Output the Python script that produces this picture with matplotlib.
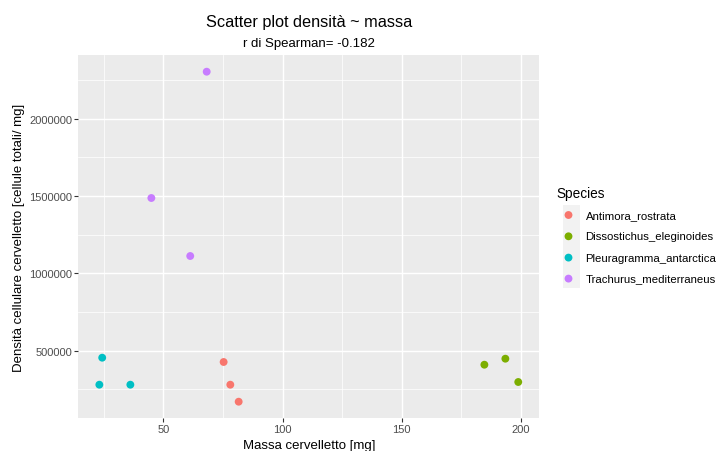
import matplotlib
matplotlib.use("Agg")
import matplotlib.pyplot as plt
from matplotlib.patches import Rectangle

plt.rcParams['font.family'] = ['Liberation Sans', 'DejaVu Sans']

species = ["Antimora_rostrata", "Dissostichus_eleginoides",
           "Pleuragramma_antarctica", "Trachurus_mediterraneus"]
colors = ["#F8766D", "#7CAE00", "#00BFC4", "#C77CFF"]

massa = {
    "Antimora_rostrata": [75.3, 78.1, 81.6],
    "Dissostichus_eleginoides": [184.6, 193.4, 198.8],
    "Pleuragramma_antarctica": [24.4, 23.2, 36.2],
    "Trachurus_mediterraneus": [68.2, 45.0, 61.3],
}
densita = {
    "Antimora_rostrata": [426900, 280100, 170100],
    "Dissostichus_eleginoides": [409400, 448300, 297500],
    "Pleuragramma_antarctica": [454700, 280100, 280100],
    "Trachurus_mediterraneus": [2304700, 1487700, 1112500],
}

x_ticks = [50, 100, 150, 200]
y_ticks = [500000, 1000000, 1500000, 2000000]
x_minor = [25, 75, 125, 175]
y_minor = [250000, 750000, 1250000, 1750000, 2250000]

W, H = 718, 452
fig = plt.figure(figsize=(W / 100, H / 100), dpi=100)
left, right, top, bottom = 78.4, 539.2, 56.2, 419.2
ax = fig.add_axes([left / W, 1 - bottom / H, (right - left) / W, (bottom - top) / H])
ax.set_facecolor("#EBEBEB")
for s in ax.spines.values():
    s.set_visible(False)

for sp, c in zip(species, colors):
    ax.scatter(massa[sp], densita[sp], s=32, color=c, edgecolors='none', zorder=3)

allx = sum(massa.values(), [])
ally = sum(densita.values(), [])
rx = max(allx) - min(allx)
ry = max(ally) - min(ally)
ax.set_xlim(min(allx) - 0.05 * rx, max(allx) + 0.05 * rx)
ax.set_ylim(min(ally) - 0.05 * ry, max(ally) + 0.05 * ry)

ax.set_xticks(x_ticks)
ax.set_yticks(y_ticks)
ax.set_xticks(x_minor, minor=True)
ax.set_yticks(y_minor, minor=True)
ax.set_yticklabels([str(v) for v in y_ticks])
ax.grid(which='major', color='white', linewidth=1.07, zorder=0)
ax.grid(which='minor', color='white', linewidth=0.53, zorder=0)
ax.set_axisbelow(True)
ax.tick_params(which='major', length=2.7, width=0.8, color='#333333',
               labelsize=8.0, labelcolor='#4D4D4D', pad=1.5)
ax.tick_params(which='minor', length=0)

ax.set_xlabel("Massa cervelletto [mg]", fontsize=9.5, color='black', va='baseline')
ax.xaxis.set_label_coords(0.5, -(449 - bottom) / (bottom - top))
ax.set_ylabel("Densità cellulare cervelletto [cellule totali/ mg]", fontsize=9.5,
              color='black', va='center')
ax.yaxis.set_label_coords((19.5 - left) / (right - left), 0.5)

cx = (left + right) / 2 / W
fig.text(cx, 1 - 26.7 / H, "Scatter plot densità ~ massa", ha='center', va='baseline',
         fontsize=11.7)
fig.text(cx, 1 - 46.5 / H, "r di Spearman= -0.182", ha='center', va='baseline',
         fontsize=9.5)

# legend drawn in pixel coordinates
lg = fig.add_axes([0, 0, 1, 1], facecolor='none')
lg.set_xlim(0, W)
lg.set_ylim(H, 0)
lg.axis('off')
lg.text(556.5, 194, "Species", fontsize=9.8, va='center', ha='left')
key_y = [216, 237.3, 258.6, 279.6]
lg.add_patch(Rectangle((562.7, 206), 16.8, 82.5, facecolor='#F2F2F2', edgecolor='none'))
for sp, c, yk in zip(species, colors, key_y):
    lg.scatter([568.5], [yk], s=32, color=c, edgecolors='none')
    lg.text(585.5, yk, sp, fontsize=8.2, va='center', ha='left', color='black')

fig.savefig("out.png", dpi=100)
